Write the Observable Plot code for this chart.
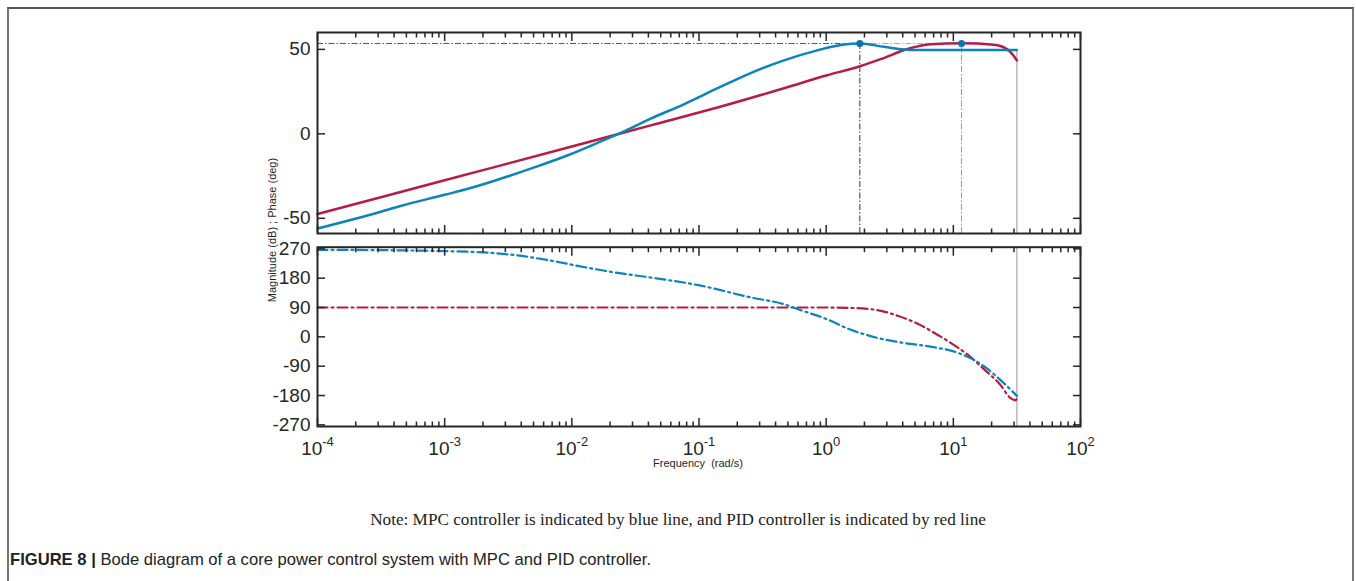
<!DOCTYPE html>
<html><head><meta charset="utf-8">
<script src="https://cdn.jsdelivr.net/npm/d3@7"></script>
<script src="https://cdn.jsdelivr.net/npm/@observablehq/plot@0.6"></script>
<style>
html,body{margin:0;padding:0;background:#fff;}
#fig{position:relative;width:1356px;height:581px;overflow:hidden;font-family:"Liberation Sans",Arial,sans-serif;color:#262626;}
#box{position:absolute;left:7px;top:7px;width:1347px;height:620px;border:2px solid #777;border-top-color:#555;border-bottom:none;box-sizing:border-box;}
.plotwrap{position:absolute;left:0;}
#ylab{position:absolute;left:272px;top:230px;transform:translate(-50%,-50%) rotate(-90deg);font-size:11px;white-space:nowrap;z-index:5;}
#xlab{position:absolute;left:698px;top:463px;transform:translate(-50%,-50%);font-size:11px;white-space:nowrap;}
#note{position:absolute;left:0;top:510px;width:1356px;text-align:center;font-family:"Liberation Serif","Times New Roman",serif;font-size:17.2px;color:#222;}
#cap{position:absolute;left:10px;top:550px;font-family:"Liberation Sans Narrow","Arial Narrow","Liberation Sans",sans-serif;font-size:16.6px;color:#222;white-space:nowrap;}
#cap b{font-weight:bold;}
</style></head>
<body>
<div id="fig">
  <div id="box"></div>
  <div class="plotwrap" id="topWrap" style="top:0px"></div>
  <div class="plotwrap" id="botWrap" style="top:240px"></div>
  <div id="ylab">Magnitude (dB) ; Phase (deg)</div>
  <div id="xlab">Frequency&nbsp; (rad/s)</div>
  <div id="note">Note: MPC controller is indicated by blue line, and PID controller is indicated by red line</div>
  <div id="cap"><b>FIGURE 8 |</b> Bode diagram of a core power control system with MPC and PID controller.</div>
</div>
<script>
// ---- data ----
const xDomain = [1e-4, 1e2];
const xDecades = [1e-4, 1e-3, 1e-2, 1e-1, 1, 10, 100];
const xTickLabels = ["10^-4", "10^-3", "10^-2", "10^-1", "10^0", "10^1", "10^2"];
const magTicks = [-50, 0, 50];
const phaseTicks = [270, 180, 90, 0, -90, -180, -270];
const magDomain = [-59, 60];
const phaseDomain = [-275, 275];

// MPC magnitude (dB)
const mpcMagFreq = [1e-4, 2.47e-4, 4.5e-4, 1e-3, 1.5e-3, 5e-3, 9.2e-3, 0.0169, 0.0242, 0.0417, 0.076, 0.14, 0.255, 0.466, 0.85, 1.38, 1.84, 2.85, 4.9, 10, 31.6];
const mpcMag     = [-56, -48.3, -42.7, -36.1, -32.7, -20, -12.8, -4.5, 0.6, 9, 17.5, 27, 36, 43.5, 49.4, 52.9, 53.5, 51.5, 49.6, 49.6, 49.6];
// PID magnitude (dB)
const pidMagFreq = [1e-4, 1e-3, 1e-2, 0.0417, 0.14, 0.466, 1, 1.84, 2.68, 4.35, 6.6, 11.6, 20.9, 26.6, 30, 31.6];
const pidMag     = [-47.5, -27.5, -7.5, 5, 15.6, 27, 34.5, 40, 44.2, 50.2, 53, 53.6, 52.8, 50, 46, 43.5];
// MPC phase (deg)
const mpcPhaseFreq = [1e-4, 3e-4, 1e-3, 2.04e-3, 3.7e-3, 6.8e-3, 0.0125, 0.0229, 0.0417, 0.1035, 0.255, 0.466, 0.63, 1, 1.51, 2.45, 3.7, 7.1, 10.7, 17.4, 23.4, 31.6];
const mpcPhase     = [267, 266, 263, 259, 250, 234, 214, 196, 182, 157, 121, 100, 82, 55, 24, -2, -16, -32, -48, -90, -132, -181];
// PID phase (deg)
const pidPhaseFreq = [1e-4, 1e-2, 1, 1.51, 2.45, 3.7, 5.2, 7.1, 9.5, 12.9, 17.4, 23.4, 28.2, 30.9, 31.6];
const pidPhase     = [90, 90, 90, 89, 83, 64, 41, 12, -18, -54, -99, -147, -188, -195, -188];

// peaks (resonance markers) and end frequency
const peakFreq = [1.84, 11.6];
const peakMag = [53.5, 53.5];
const endFreq = 31.6;
const mpcEndMag = 49.6;

const blue = "#0b84bd", red = "#b81b45", dotBlue = "#0a72b5", ink = "#262626";

const mpcMagData = mpcMagFreq.map((f, i) => ({f, v: mpcMag[i]}));
const pidMagData = pidMagFreq.map((f, i) => ({f, v: pidMag[i]}));
const mpcPhData = mpcPhaseFreq.map((f, i) => ({f, v: mpcPhase[i]}));
const pidPhData = pidPhaseFreq.map((f, i) => ({f, v: pidPhase[i]}));
const peaks = peakFreq.map((f, i) => ({f, v: peakMag[i]}));

const minorTicks = d3.scaleLog().domain(xDomain).ticks().filter(d => !xDecades.includes(d));
const lbl = new Map(xDecades.map((d, i) => [d, xTickLabels[i]]));

const font = "'Liberation Sans', Arial, sans-serif";
const W = 1356, ML = 317, MR = 276;

function frameTicks(yTicks) {
  const common = {label: null, tickFormat: () => "", stroke: ink, strokeWidth: 1.5};
  return [
    Plot.axisX({...common, anchor: "bottom", ticks: xDecades, tickSize: -8}),
    Plot.axisX({...common, anchor: "top", ticks: xDecades, tickSize: -8}),
    Plot.axisX({...common, anchor: "bottom", ticks: minorTicks, tickSize: -4.5}),
    Plot.axisX({...common, anchor: "top", ticks: minorTicks, tickSize: -4.5}),
    Plot.axisY({...common, anchor: "left", ticks: yTicks, tickSize: -8}),
    Plot.axisY({...common, anchor: "right", ticks: yTicks, tickSize: -8}),
    Plot.axisY({label: null, anchor: "left", ticks: yTicks, tickSize: 0, tickPadding: 7, fontSize: 19, fill: ink, tickFormat: d => String(d)}),
    Plot.frame({stroke: ink, strokeWidth: 2})
  ];
}

const magPlot = Plot.plot({
  width: W, height: 240, marginTop: 32, marginBottom: 7, marginLeft: ML, marginRight: MR,
  style: {background: "transparent", fontFamily: font, overflow: "visible"},
  x: {type: "log", domain: xDomain, label: null},
  y: {domain: magDomain, label: null},
  marks: [
    Plot.ruleY([peaks[0]], {y: "v", x1: xDomain[0], x2: "f", stroke: "#555", strokeWidth: 1, strokeDasharray: "6,2,1.5,2"}),
    Plot.ruleY([peaks[0]], {y: "v", x1: "f", x2: peakFreq[1], stroke: "#aaa", strokeWidth: 1, strokeDasharray: "6,2,1.5,2"}),
    Plot.ruleX([peaks[0]], {x: "f", y1: magDomain[0], y2: "v", stroke: "#333", strokeWidth: 1, strokeDasharray: "6,2,1.5,2"}),
    Plot.ruleX([peaks[1]], {x: "f", y1: magDomain[0], y2: "v", stroke: "#999", strokeWidth: 1, strokeDasharray: "6,2,1.5,2"}),
    Plot.ruleX([endFreq], {y1: magDomain[0], y2: mpcEndMag, stroke: "#aaa", strokeWidth: 1.2}),
    Plot.line(pidMagData, {x: "f", y: "v", stroke: red, strokeWidth: 2.5, curve: "monotone-x"}),
    Plot.line(mpcMagData, {x: "f", y: "v", stroke: blue, strokeWidth: 2.5, curve: "monotone-x"}),
    Plot.dot(peaks, {x: "f", y: "v", r: 3.5, fill: dotBlue}),
    ...frameTicks(magTicks)
  ]
});
document.getElementById("topWrap").appendChild(magPlot);

const phasePlot = Plot.plot({
  width: W, height: 240, marginTop: 6.7, marginBottom: 54, marginLeft: ML, marginRight: MR,
  style: {background: "transparent", fontFamily: font, overflow: "visible"},
  x: {type: "log", domain: xDomain, label: null},
  y: {domain: phaseDomain, label: null},
  marks: [
    Plot.ruleX([endFreq], {stroke: "#aaa", strokeWidth: 1.2}),
    Plot.line(pidPhData, {x: "f", y: "v", stroke: red, strokeWidth: 2.2, strokeDasharray: "10,4,2,4", curve: "monotone-x"}),
    Plot.line(mpcPhData, {x: "f", y: "v", stroke: blue, strokeWidth: 2.2, strokeDasharray: "10,4,2,4", curve: "monotone-x"}),
    ...frameTicks(phaseTicks),
    Plot.axisX({label: null, anchor: "bottom", ticks: xDecades, tickSize: 0, tickPadding: 15, fontSize: 19, fill: ink, tickFormat: d => lbl.get(d)})
  ]
});
document.getElementById("botWrap").appendChild(phasePlot);

// render "10^e" tick labels with a raised exponent
const NS = "http://www.w3.org/2000/svg";
phasePlot.querySelectorAll('[aria-label="x-axis tick label"] text').forEach(t => {
  const parts = t.textContent.split("^");
  if (parts.length === 2) {
    t.textContent = parts[0];
    const ts = document.createElementNS(NS, "tspan");
    ts.setAttribute("dy", "-9");
    ts.setAttribute("font-size", "13");
    ts.textContent = parts[1];
    t.appendChild(ts);
  }
});
</script>
</body></html>
